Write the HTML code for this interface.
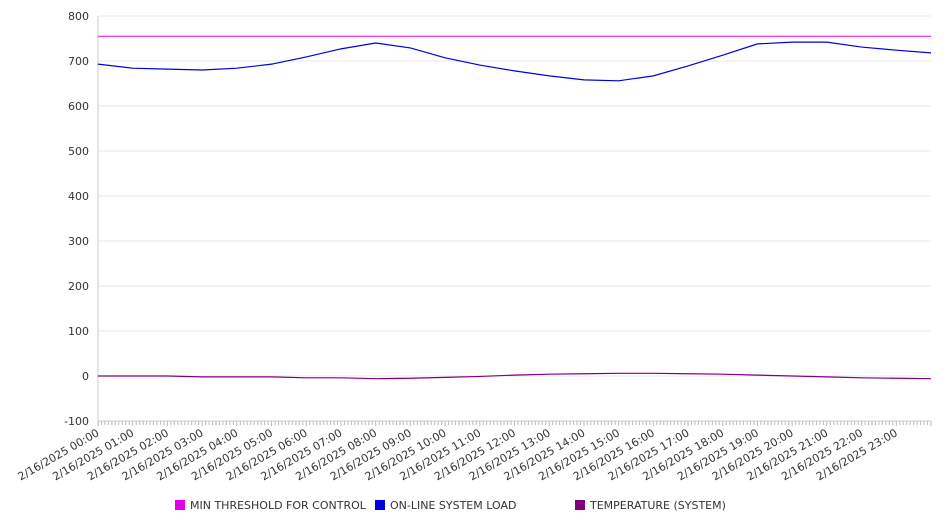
<!DOCTYPE html>
<html><head><meta charset="utf-8"><style>
body{margin:0;background:#fff;font-family:"Liberation Sans","DejaVu Sans",sans-serif}
svg text{font-family:"DejaVu Sans","Liberation Sans",sans-serif;font-size:11px;fill:#333}
</style></head><body>
<svg id="chart" width="946" height="526" xmlns="http://www.w3.org/2000/svg">
<g id="grid"></g><g id="axes"></g><g id="series"></g><g id="legend"></g>
</svg>
<script>
const hours=["00:00","01:00","02:00","03:00","04:00","05:00","06:00","07:00","08:00","09:00","10:00","11:00","12:00","13:00","14:00","15:00","16:00","17:00","18:00","19:00","20:00","21:00","22:00","23:00"];
const yTicks=[-100,0,100,200,300,400,500,600,700,800];
const threshold=755;
const loadValues=[693,684,682,680,684,693,709,727,740,729,707,691,678,667,658,656,667,689,713,738,742,742,731,724,718];
const tempValues=[0,0,0,-2,-2,-2,-4,-4,-6,-5,-3,-1,2,4,5,6,6,5,4,2,0,-2,-4,-5,-6];
const seriesNames=["MIN THRESHOLD FOR CONTROL","ON-LINE SYSTEM LOAD","TEMPERATURE (SYSTEM)"];
const seriesColors=["#e400e4","#0000e0","#800080"];

const NS="http://www.w3.org/2000/svg";
const X0=98,X1=931,Y0=421,Y1=16;
const xs=h=>X0+(X1-X0)*h/24;
const ys=v=>Y0-(v+100)/900*(Y0-Y1);
function mk(t,a,p){const e=document.createElementNS(NS,t);for(const k in a)e.setAttribute(k,a[k]);p.appendChild(e);return e;}
const grid=document.getElementById('grid'),axes=document.getElementById('axes'),ser=document.getElementById('series'),leg=document.getElementById('legend');
yTicks.forEach(v=>{
 const l=mk('line',{x1:X0,x2:X1,y1:ys(v),y2:ys(v),stroke:'#e8e8e8'},grid);
 
 
 const t=mk('text',{x:89,y:ys(v)+4,'text-anchor':'end'},axes);t.textContent=v;
 
 
});
mk('line',{x1:X0,x2:X0,y1:Y1,y2:Y0,stroke:'#ccc'},axes);
mk('line',{x1:X0,x2:X1,y1:Y0,y2:Y0,stroke:'#ccc'},axes);
for(let i=0;i<=240;i++){const x=xs(i/10);mk('line',{x1:x,x2:x,y1:Y0,y2:Y0+(i%10?4:5),stroke:'#bbb'},axes);}
hours.forEach((h,i)=>{
 const x=xs(i);
 const t=mk('text',{x:x+2,y:Y0+14,'text-anchor':'end',transform:`rotate(-30 ${x+2} ${Y0+14})`},axes);
 t.textContent="2/16/2025 "+h;
 
 
});
const th=mk('line',{x1:X0,x2:X1,y1:ys(threshold),y2:ys(threshold),stroke:seriesColors[0],'stroke-width':1},ser);


function line(vals,c,name){
 const p=mk('polyline',{points:vals.map((v,i)=>xs(i*24/(vals.length-1))+','+ys(v)).join(' '),fill:'none',stroke:c,'stroke-width':1.2},ser);
 
 
}
line(loadValues,seriesColors[1],'system-load-line');
line(tempValues,seriesColors[2],'temperature-line');
const lx=[175,375,575];
seriesNames.forEach((n,i)=>{
 const g=mk('g',{},leg);
 
 
 mk('rect',{x:lx[i],y:500,width:10,height:10,fill:seriesColors[i]},g);
 const t=mk('text',{x:lx[i]+15,y:509},g);t.textContent=n;
});
</script>
</body></html>
